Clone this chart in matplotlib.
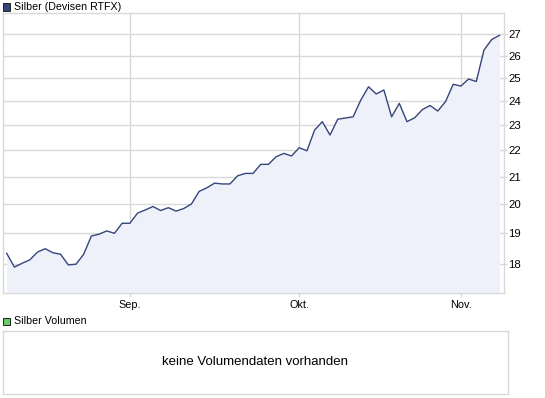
import matplotlib
matplotlib.use("Agg")
import matplotlib.pyplot as plt
from matplotlib.patches import Rectangle
from matplotlib.ticker import FixedLocator, FixedFormatter, NullLocator

# ---- data (trading days, Aug 10 2010 .. Nov 8 2010) ----
prices = [18.34, 17.90, 18.02, 18.13, 18.38, 18.49, 18.36, 18.31, 17.97, 17.99,
          18.31, 18.91, 18.97, 19.08, 19.00, 19.34, 19.34, 19.69, 19.80, 19.92,
          19.78, 19.88, 19.76, 19.85, 20.01, 20.46, 20.59, 20.76, 20.73, 20.73,
          21.03, 21.12, 21.12, 21.46, 21.46, 21.75, 21.88, 21.78, 22.10, 21.98,
          22.80, 23.14, 22.60, 23.24, 23.29, 23.34, 24.04, 24.61, 24.30, 24.47,
          23.34, 23.90, 23.14, 23.30, 23.64, 23.81, 23.58, 23.97, 24.72, 24.64,
          24.95, 24.84, 26.26, 26.75, 26.95]
month_labels = ["Sep.", "Okt.", "Nov."]
month_index = [16, 38, 59]          # index of first trading day of each month
y_ticks = [18, 19, 20, 21, 22, 23, 24, 25, 26, 27]
title_main = "Silber (Devisen RTFX)"
title_vol = "Silber Volumen"
vol_msg = "keine Volumendaten vorhanden"

W, H = 545, 398
fig = plt.figure(figsize=(W / 100, H / 100), dpi=100)
plt.rcParams['font.family'] = ['Liberation Sans', 'DejaVu Sans']

def rect_px(l, t, r, b):
    return [l / W, 1 - b / H, (r - l) / W, (b - t) / H]

grid_c = "#d9d9d9"
line_c = "#34467a"
fill_c = "#eef1fa"

ax = fig.add_axes(rect_px(3, 12.7, 504, 293.3))
x = list(range(len(prices)))
ymin, ymax = 17.09, 28.05
ax.set_yscale('log')
ax.fill_between(x, prices, ymin, color=fill_c, lw=0, zorder=1)
ax.plot(x, prices, color=line_c, lw=1.0, zorder=3)
ax.set_ylim(ymin, ymax)
ax.set_xlim(-0.48, 64.6)

ax.yaxis.set_major_locator(FixedLocator(y_ticks))
ax.yaxis.set_major_formatter(FixedFormatter([str(v) for v in y_ticks]))
ax.yaxis.set_minor_locator(NullLocator())
ax.yaxis.tick_right()
ax.set_xticks(month_index)
ax.set_xticklabels(month_labels)
ax.tick_params(axis='x', colors=grid_c, labelcolor='black', labelsize=7.8,
               length=3, width=1, pad=2)
ax.tick_params(axis='y', colors=grid_c, labelcolor='black', labelsize=8.2,
               length=2, width=1, pad=1)
ax.grid(True, color=grid_c, lw=1, zorder=0)
ax.set_axisbelow(True)
for s in ax.spines.values():
    s.set_color(grid_c)
    s.set_linewidth(1)

# legend markers / titles
fig.add_artist(Rectangle((3 / W, 1 - 10.5 / H), 7 / W, 7 / H, transform=fig.transFigure,
                         facecolor="#34467a", edgecolor="#222222", lw=0.7))
fig.text(14 / W, 1 - 7 / H, title_main, fontsize=7.7, va='center', ha='left')

fig.add_artist(Rectangle((3 / W, 1 - 325 / H), 7 / W, 7 / H, transform=fig.transFigure,
                         facecolor="#66cc66", edgecolor="#222222", lw=0.7))
fig.text(14 / W, 1 - 321.5 / H, title_vol, fontsize=7.7, va='center', ha='left')

axv = fig.add_axes(rect_px(3, 330.5, 508, 393.5))
axv.set_xticks([])
axv.set_yticks([])
for s in axv.spines.values():
    s.set_color(grid_c)
    s.set_linewidth(1)
axv.text(0.5, 0.5, vol_msg, transform=axv.transAxes, ha='center', va='center',
         fontsize=9.5)

fig.savefig("out.png", dpi=100)
